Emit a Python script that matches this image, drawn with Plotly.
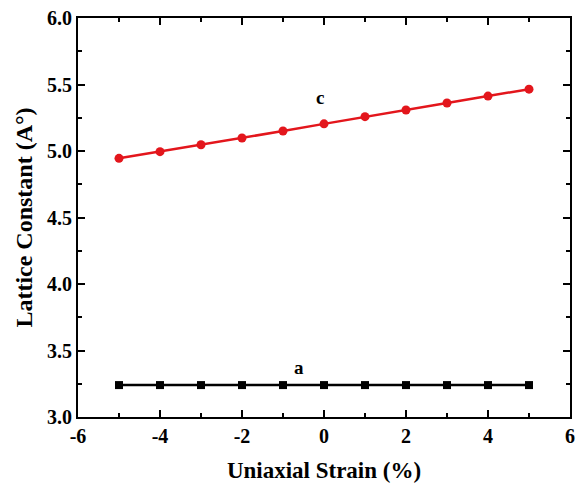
import plotly.graph_objects as go

strain = [-5, -4, -3, -2, -1, 0, 1, 2, 3, 4, 5]
lattice_c = [4.945, 4.995, 5.047, 5.098, 5.150, 5.204, 5.258, 5.308, 5.361, 5.413, 5.465]
lattice_a = [3.24, 3.24, 3.24, 3.24, 3.24, 3.24, 3.24, 3.24, 3.24, 3.24, 3.24]

x_tickvals = [-6, -4, -2, 0, 2, 4, 6]
x_ticktext = ["-6", "-4", "-2", "0", "2", "4", "6"]
y_tickvals = [3.0, 3.5, 4.0, 4.5, 5.0, 5.5, 6.0]
y_ticktext = ["3.0", "3.5", "4.0", "4.5", "5.0", "5.5", "6.0"]

FONT = "Liberation Serif"

fig = go.Figure()
fig.add_trace(go.Scatter(x=strain, y=lattice_c, mode="lines+markers", name="c",
                         line=dict(color="#e3161c", width=2.5),
                         marker=dict(symbol="circle", size=9, color="#e3161c")))
fig.add_trace(go.Scatter(x=strain, y=lattice_a, mode="lines+markers", name="a",
                         line=dict(color="#000000", width=2.5),
                         marker=dict(symbol="square", size=8, color="#000000")))

fig.add_annotation(x=-0.1, y=5.40, text="<b>c</b>", showarrow=False,
                   font=dict(family=FONT, size=19, color="black"))
fig.add_annotation(x=-0.6, y=3.37, text="<b>a</b>", showarrow=False,
                   font=dict(family=FONT, size=19, color="black"))

axis_common = dict(showline=True, linecolor="black", linewidth=2, mirror="ticks",
                   ticks="inside", ticklen=7, tickwidth=2, tickcolor="black",
                   showgrid=False, zeroline=False,
                   tickfont=dict(family=FONT, size=20, color="black"))

fig.update_xaxes(range=[-6, 6], tickmode="array", tickvals=x_tickvals,
                 ticktext=["<b>%s</b>" % t for t in x_ticktext],
                 minor=dict(dtick=1, tick0=-6, ticks="inside", ticklen=4, tickwidth=2, tickcolor="black", showgrid=False),
                 title=dict(text="<b>Uniaxial Strain (%)</b>", font=dict(family=FONT, size=23, color="black"), standoff=16),
                 **axis_common)
fig.update_yaxes(range=[3.0, 6.0], tickmode="array", tickvals=y_tickvals,
                 ticktext=["<b>%s</b>" % t for t in y_ticktext],
                 minor=dict(dtick=0.25, tick0=3.0, ticks="inside", ticklen=4, tickwidth=2, tickcolor="black", showgrid=False),
                 title=dict(text="<b>Lattice Constant (A°)</b>", font=dict(family=FONT, size=24, color="black"), standoff=8),
                 **axis_common)

fig.update_layout(width=582, height=492, showlegend=False,
                  plot_bgcolor="white", paper_bgcolor="white",
                  margin=dict(l=78, r=7, t=15, b=75),
                  font=dict(family=FONT, color="black"))

fig.write_html("out.html")
